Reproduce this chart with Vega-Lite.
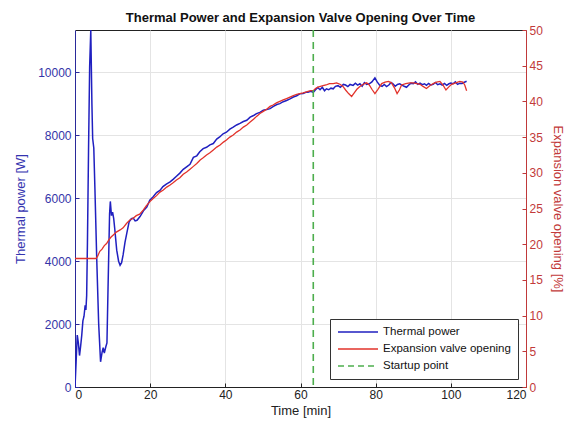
{
  "$schema": "https://vega.github.io/schema/vega-lite/v6.json",
  "autosize": {"type": "none"},
  "width": 451,
  "height": 357,
  "padding": {"left": 75, "top": 30, "right": 48, "bottom": 45},
  "background": "white",
  "title": {"text": "Thermal Power and Expansion Valve Opening Over Time", "fontSize": 13, "fontWeight": "bold", "font": "Liberation Sans", "color": "#111", "offset": -1, "frame": "group", "anchor": "middle"},
  "config": {
    "font": "Liberation Sans",
    "view": {"stroke": "#222", "strokeWidth": 1},
    "axis": {"labelFontSize": 12, "titleFontSize": 13, "titleFontWeight": "normal", "gridColor": "#e4e4e4", "gridWidth": 1, "tickSize": -4, "labelPadding": 8, "domainWidth": 1, "format": "d"},
    "legend": {"orient": "bottom-right", "offset": 8, "strokeColor": "#333", "fillColor": "white", "padding": 7, "rowPadding": 5, "symbolType": "stroke", "symbolSize": 1600, "clipHeight": 12, "symbolStrokeWidth": 1.6, "labelFontSize": 11.5, "labelOffset": 4, "title": null, "labelColor": "#111"}
  },
  "datasets": {
    "power": [
      {"t":0,"W":0},{"t":0.3,"W":800},{"t":0.6,"W":1650},{"t":0.9,"W":1400},{"t":1.2,"W":1000},{"t":1.5,"W":1300},{"t":1.8,"W":1650},{"t":2.1,"W":2100},{"t":2.4,"W":2250},{"t":2.7,"W":2600},{"t":2.9,"W":2450},{"t":3.1,"W":2900},{"t":3.3,"W":4500},{"t":3.6,"W":7500},{"t":3.9,"W":10200},{"t":4.2,"W":11350},{"t":4.5,"W":9000},{"t":4.7,"W":7900},{"t":5.0,"W":7600},{"t":5.3,"W":6300},{"t":5.8,"W":4000},{"t":6.3,"W":2000},{"t":6.8,"W":800},{"t":7.2,"W":1100},{"t":7.5,"W":1250},{"t":7.8,"W":1080},{"t":8.2,"W":1280},{"t":8.5,"W":1400},{"t":8.8,"W":3200},{"t":9.2,"W":5500},{"t":9.4,"W":5900},{"t":9.7,"W":5450},{"t":10.0,"W":5560},{"t":10.3,"W":5350},{"t":10.6,"W":5000},{"t":11.1,"W":4350},{"t":11.6,"W":4000},{"t":12.0,"W":3870},{"t":12.4,"W":3950},{"t":12.8,"W":4200},{"t":13.3,"W":4600},{"t":13.8,"W":4900},{"t":14.4,"W":5250},{"t":15.0,"W":5350},{"t":15.5,"W":5370},{"t":16.0,"W":5280},{"t":16.5,"W":5300},{"t":17.3,"W":5420},{"t":18.2,"W":5600},{"t":19.1,"W":5720},{"t":19.9,"W":5940},{"t":20.8,"W":6050},{"t":21.7,"W":6180},{"t":22.6,"W":6250},{"t":23.4,"W":6370},{"t":24.3,"W":6450},{"t":25.3,"W":6520},{"t":26.1,"W":6600},{"t":27.0,"W":6700},{"t":27.9,"W":6800},{"t":28.8,"W":6920},{"t":29.7,"W":7000},{"t":30.6,"W":7080},{"t":31.5,"W":7300},{"t":32.4,"W":7350},{"t":33.2,"W":7480},{"t":34.1,"W":7580},{"t":35.0,"W":7620},{"t":35.9,"W":7700},{"t":36.8,"W":7740},{"t":37.7,"W":7880},{"t":38.5,"W":7950},{"t":39.4,"W":8050},{"t":40.3,"W":8100},{"t":41.2,"W":8200},{"t":42.1,"W":8260},{"t":43.0,"W":8330},{"t":43.9,"W":8380},{"t":44.8,"W":8440},{"t":45.7,"W":8480},{"t":46.6,"W":8580},{"t":47.5,"W":8630},{"t":48.3,"W":8690},{"t":49.2,"W":8730},{"t":50.1,"W":8800},{"t":51.0,"W":8820},{"t":51.9,"W":8850},{"t":52.8,"W":8920},{"t":53.7,"W":8980},{"t":54.5,"W":9010},{"t":55.4,"W":9070},{"t":56.3,"W":9110},{"t":57.2,"W":9160},{"t":58.1,"W":9220},{"t":59.0,"W":9260},{"t":59.8,"W":9320},{"t":60.7,"W":9330},{"t":61.4,"W":9370},{"t":62.0,"W":9370},{"t":62.7,"W":9400},{"t":63.4,"W":9370},{"t":64.0,"W":9450},{"t":64.6,"W":9520},{"t":65.2,"W":9450},{"t":65.8,"W":9530},{"t":66.4,"W":9420},{"t":66.9,"W":9480},{"t":67.5,"W":9450},{"t":68.1,"W":9500},{"t":68.7,"W":9480},{"t":69.3,"W":9560},{"t":70.0,"W":9580},{"t":70.6,"W":9530},{"t":71.4,"W":9620},{"t":72.0,"W":9600},{"t":72.6,"W":9550},{"t":73.2,"W":9620},{"t":74.0,"W":9590},{"t":74.6,"W":9660},{"t":75.2,"W":9600},{"t":75.8,"W":9640},{"t":76.4,"W":9560},{"t":77.0,"W":9680},{"t":77.6,"W":9620},{"t":78.3,"W":9640},{"t":79.0,"W":9700},{"t":79.8,"W":9830},{"t":80.4,"W":9700},{"t":81.1,"W":9590},{"t":81.7,"W":9560},{"t":82.3,"W":9620},{"t":82.9,"W":9550},{"t":83.5,"W":9600},{"t":84.1,"W":9680},{"t":84.6,"W":9640},{"t":85.2,"W":9560},{"t":85.8,"W":9620},{"t":86.4,"W":9640},{"t":87.0,"W":9600},{"t":87.6,"W":9560},{"t":88.2,"W":9530},{"t":88.8,"W":9600},{"t":89.4,"W":9660},{"t":90.0,"W":9640},{"t":90.6,"W":9700},{"t":91.2,"W":9620},{"t":91.8,"W":9660},{"t":92.4,"W":9610},{"t":93.0,"W":9640},{"t":93.5,"W":9590},{"t":94.1,"W":9650},{"t":94.7,"W":9600},{"t":95.3,"W":9620},{"t":95.9,"W":9680},{"t":96.5,"W":9610},{"t":97.1,"W":9640},{"t":97.7,"W":9600},{"t":98.3,"W":9650},{"t":98.9,"W":9590},{"t":99.5,"W":9640},{"t":100.0,"W":9660},{"t":100.6,"W":9640},{"t":101.2,"W":9700},{"t":101.8,"W":9620},{"t":102.4,"W":9660},{"t":103.0,"W":9650},{"t":103.6,"W":9690},{"t":104.2,"W":9720}
    ],
    "valve": [
      {"t":0,"p":18.0},{"t":5.6,"p":18.0},{"t":6.0,"p":18.3},{"t":6.6,"p":19.0},{"t":7.2,"p":19.3},{"t":7.8,"p":19.8},{"t":8.4,"p":20.1},{"t":9.0,"p":20.6},{"t":9.6,"p":21.0},{"t":10.2,"p":21.3},{"t":11.0,"p":21.7},{"t":12.0,"p":22.0},{"t":12.8,"p":22.3},{"t":13.7,"p":22.9},{"t":14.6,"p":23.4},{"t":15.4,"p":23.6},{"t":16.3,"p":24.0},{"t":17.2,"p":24.2},{"t":18.2,"p":24.8},{"t":19.0,"p":25.4},{"t":20.0,"p":26.0},{"t":20.8,"p":26.4},{"t":21.7,"p":26.8},{"t":22.6,"p":27.3},{"t":23.5,"p":27.6},{"t":24.4,"p":28.0},{"t":25.3,"p":28.3},{"t":26.1,"p":28.6},{"t":27.0,"p":29.0},{"t":27.9,"p":29.3},{"t":28.8,"p":29.8},{"t":29.7,"p":30.1},{"t":30.6,"p":30.5},{"t":31.5,"p":30.9},{"t":32.4,"p":31.3},{"t":33.3,"p":31.8},{"t":34.1,"p":32.1},{"t":35.0,"p":32.5},{"t":35.9,"p":32.8},{"t":36.8,"p":33.2},{"t":37.7,"p":33.6},{"t":38.6,"p":33.9},{"t":39.5,"p":34.3},{"t":40.3,"p":34.6},{"t":41.2,"p":35.0},{"t":42.1,"p":35.3},{"t":43.0,"p":35.7},{"t":43.9,"p":36.0},{"t":44.8,"p":36.4},{"t":45.7,"p":36.7},{"t":46.6,"p":37.1},{"t":47.5,"p":37.5},{"t":48.3,"p":37.9},{"t":49.2,"p":38.3},{"t":50.1,"p":38.6},{"t":51.0,"p":38.9},{"t":51.9,"p":39.3},{"t":52.7,"p":39.5},{"t":53.6,"p":39.8},{"t":54.5,"p":40.0},{"t":55.4,"p":40.2},{"t":56.3,"p":40.4},{"t":57.2,"p":40.6},{"t":58.1,"p":40.8},{"t":59.0,"p":41.0},{"t":59.8,"p":41.1},{"t":60.7,"p":41.2},{"t":61.4,"p":41.3},{"t":62.0,"p":41.4},{"t":62.7,"p":41.5},{"t":63.4,"p":41.5},{"t":64.0,"p":41.8},{"t":64.6,"p":42.0},{"t":65.3,"p":42.1},{"t":66.0,"p":42.2},{"t":66.8,"p":42.3},{"t":67.7,"p":42.5},{"t":68.7,"p":42.5},{"t":69.6,"p":42.6},{"t":70.5,"p":42.4},{"t":71.3,"p":42.1},{"t":72.0,"p":41.6},{"t":72.8,"p":41.1},{"t":73.6,"p":40.7},{"t":74.3,"p":41.2},{"t":75.0,"p":41.7},{"t":75.8,"p":42.1},{"t":76.7,"p":42.4},{"t":77.6,"p":42.6},{"t":78.3,"p":42.3},{"t":79.0,"p":41.7},{"t":79.8,"p":41.1},{"t":80.6,"p":41.7},{"t":81.6,"p":42.5},{"t":82.5,"p":42.7},{"t":83.4,"p":42.8},{"t":84.2,"p":42.6},{"t":85.0,"p":41.9},{"t":85.7,"p":41.1},{"t":86.3,"p":41.6},{"t":86.9,"p":42.3},{"t":88.0,"p":42.5},{"t":89.1,"p":42.6},{"t":90.0,"p":42.6},{"t":91.0,"p":42.5},{"t":91.8,"p":42.4},{"t":92.6,"p":42.1},{"t":93.5,"p":41.8},{"t":94.4,"p":42.2},{"t":95.3,"p":42.5},{"t":96.2,"p":42.7},{"t":97.1,"p":42.8},{"t":97.9,"p":42.3},{"t":98.7,"p":41.6},{"t":99.4,"p":42.0},{"t":100.2,"p":42.4},{"t":101.3,"p":42.6},{"t":102.4,"p":42.8},{"t":103.2,"p":42.7},{"t":103.7,"p":42.3},{"t":104.2,"p":41.5}
    ],
    "startup": [{"t": 63.4}]
  },
  "layer": [
    {
      "data": {"name": "power"},
      "mark": {"type": "line", "strokeWidth": 1.5, "clip": true},
      "encoding": {
        "x": {"field": "t", "type": "quantitative", "scale": {"domain": [0, 120], "nice": false}, "axis": {"title": "Time [min]", "values": [0, 20, 40, 60, 80, 100, 120], "grid": true, "domainColor": "#222", "tickColor": "#222", "labelColor": "#222", "titleColor": "#222", "labelPadding": 6, "titlePadding": 4}},
        "y": {"field": "W", "type": "quantitative", "scale": {"domain": [0, 11350], "nice": false}, "axis": {"title": "Thermal power [W]", "orient": "left", "values": [0, 2000, 4000, 6000, 8000, 10000], "grid": true, "domainColor": "#2a2a9a", "tickColor": "#2a2a9a", "labelColor": "#3434a8", "titleColor": "#3434b0", "titlePadding": 10}},
        "color": {"datum": "Thermal power", "scale": {"domain": ["Thermal power", "Expansion valve opening", "Startup point"], "range": ["#2020c0", "#e2332b", "#4dae4d"]}, "legend": {"encode": {"symbols": {"update": {"strokeDash": {"signal": "datum.value === 'Startup point' ? [6, 4] : [1, 0]"}}}}}}
      }
    },
    {
      "data": {"name": "valve"},
      "mark": {"type": "line", "strokeWidth": 1.3, "clip": true},
      "encoding": {
        "x": {"field": "t", "type": "quantitative"},
        "y": {"field": "p", "type": "quantitative", "scale": {"domain": [0, 50], "nice": false}, "axis": {"title": "Expansion valve opening [%]", "orient": "right", "values": [0, 5, 10, 15, 20, 25, 30, 35, 40, 45, 50], "grid": false, "domainColor": "#c0393a", "tickColor": "#c0393a", "labelColor": "#c23a3a", "titleColor": "#c23a3a", "labelPadding": 7, "titlePadding": 8}},
        "color": {"datum": "Expansion valve opening"}
      }
    },
    {
      "data": {"name": "startup"},
      "mark": {"type": "rule", "strokeWidth": 1.6, "strokeDash": [7, 5]},
      "encoding": {
        "x": {"field": "t", "type": "quantitative"},
        "color": {"datum": "Startup point"}
      }
    }
  ],
  "resolve": {"scale": {"y": "independent"}}
}
